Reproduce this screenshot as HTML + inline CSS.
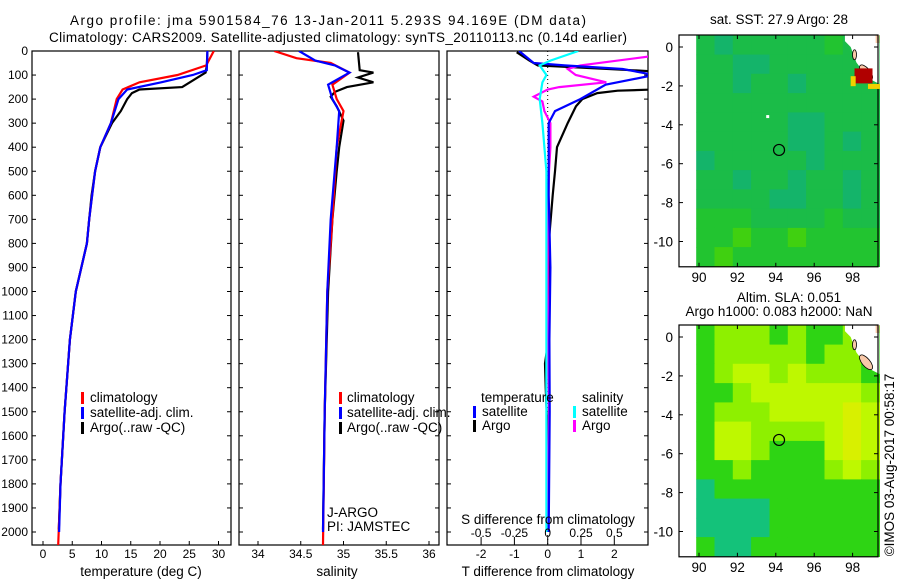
<!DOCTYPE html>
<html><head><meta charset="utf-8"><style>
body{margin:0;background:#fff;}
svg{display:block;font-family:"Liberation Sans",sans-serif;font-size:12px;}
.w{font-size:13.5px;}
</style></head><body>
<svg id="chart" width="900" height="580" viewBox="0 0 900 580">
<defs>
<clipPath id="c1"><rect x="32" y="51" width="199" height="494"/></clipPath>
<clipPath id="c2"><rect x="239" y="51" width="200" height="494"/></clipPath>
<clipPath id="c3"><rect x="447" y="51" width="201" height="494"/></clipPath>
</defs>
<text class="w" x="328" y="25" text-anchor="middle" textLength="516">Argo profile: jma 5901584_76 13-Jan-2011 5.293S 94.169E (DM data)</text>
<text class="w" x="338" y="42" text-anchor="middle" textLength="578">Climatology: CARS2009. Satellite-adjusted climatology: synTS_20110113.nc (0.14d earlier)</text>
<g id="g"></g>
<text class="w" x="779" y="24" text-anchor="middle">sat. SST: 27.9 Argo: 28</text>
<text class="w" x="789" y="302" text-anchor="middle">Altim. SLA: 0.051</text>
<text class="w" x="779" y="316" text-anchor="middle">Argo h1000: 0.083 h2000: NaN</text>
<text class="w" transform="translate(894,465) rotate(-90)" text-anchor="middle">©IMOS 03-Aug-2017 00:58:17</text>
</svg>
<script>
// ---- data ----
const tempArgoDepth=[5,60,90,150,160,175,200,250,300,400,500,600,700,800,1000,1200,1500,1800,1990];
const tempArgo=[28.1,28.0,27.8,23.8,16.5,15.2,14.4,13.3,11.8,9.8,8.9,8.3,7.9,7.5,5.6,4.6,3.7,3.0,2.7];
const tempClimDepth=[0,60,100,130,160,200,300,400,500,700,800,1000,1200,1500,1800,2054];
const tempClim=[29.2,27.9,23.0,16.5,13.6,12.6,11.6,9.8,8.9,7.9,7.5,5.6,4.6,3.7,3.0,2.6];
const tempSatDepth=[0,80,100,130,160,200,300,400,500,700,800,1000,1200,1500,1800,2000];
const tempSat=[28.1,28.0,25.6,20.2,14.4,12.9,11.6,9.8,8.9,7.9,7.5,5.6,4.6,3.7,3.0,2.75];
const salArgoDepth=[5,80,90,110,130,150,170,190,230,290,400,500,700,1000,1500,1990];
const salArgo=[35.17,35.19,35.35,35.17,35.35,35.04,34.9,34.85,34.92,35.0,34.95,34.92,34.87,34.82,34.78,34.76];
const salClimDepth=[0,30,50,90,140,200,250,400,700,1000,1500,2054];
const salClim=[34.19,34.45,34.85,35.07,34.87,34.92,35.0,34.92,34.87,34.81,34.78,34.76];
const salSatDepth=[0,40,60,90,140,200,250,400,700,1000,1500,2000];
const salSat=[34.48,34.67,34.9,35.07,34.82,34.87,34.95,34.92,34.85,34.81,34.78,34.76];
const dTArgoDepth=[5,40,60,85,160,165,175,200,230,300,400,500,600,700,800,1000,1200,1300,1400,1600,1990];
const dTArgo=[-0.93,-0.55,-0.3,3.2,3.2,2.1,1.49,1.04,0.85,0.6,0.28,0.22,0.15,0.09,0.03,0.05,0.02,-0.08,-0.06,0.0,0.0];
const dTSatDepth=[0,50,60,75,100,140,200,250,300,600,900,1200,1500,2000];
const dTSat=[-0.86,-0.42,0.5,2.25,3.2,1.74,0.98,0.22,0.03,0.03,0.08,0.05,0.06,0.03];
const dSArgoDepth=[5,20,60,75,100,130,150,160,190,210,250,300,400,500,700,1000,1500,1990];
const dSArgo=[0.8,0.8,0.245,0.15,0.21,0.44,0.086,0,-0.105,-0.04,-0.025,0.02,0.02,0.01,0.0,0.0,0.01,0.0];
const dSSatDepth=[0,40,60,100,130,200,300,500,800,1200,1600,2000];
const dSSat=[0.23,0.02,-0.06,-0.01,-0.04,-0.06,-0.04,-0.01,-0.01,-0.01,-0.01,-0.01];
const depthTicks=[0,100,200,300,400,500,600,700,800,900,1000,1100,1200,1300,1400,1500,1600,1700,1800,1900,2000];
const tempTicks=[0,5,10,15,20,25,30];
const salTicks=[34,34.5,35,35.5,36];
const dTTicks=[-2,-1,0,1,2];
const dSTicks=[-0.5,-0.25,0,0.25,0.5];
const lonTicks=[90,92,94,96,98];
const latTicks=[0,-2,-4,-6,-8,-10];
// map grids: rows lat 0.5..-10.5, cols lon 90..99
const sstGrid=[
[1,0,1,1,1,1,1,2,1,1],[1,1,0,0,1,1,1,1,1,1],[1,1,0,1,1,0,1,1,1,1],[1,1,1,1,1,1,1,1,1,1],
[1,1,1,1,1,0,0,1,1,1],[1,1,1,1,1,0,0,1,0,1],[0,1,1,1,1,1,0,1,1,1],[1,1,0,1,1,0,1,1,0,1],
[1,1,1,1,0,0,1,1,0,1],[2,2,2,1,1,1,1,2,1,1],[2,2,3,2,2,3,2,2,2,2],[2,3,2,2,2,2,2,2,2,2]];
const slaGrid=[
[1,2,2,2,1,2,1,1,2,1],[1,2,2,2,2,2,1,2,2,1],[1,2,3,3,2,3,2,2,2,1],[1,1,2,3,3,3,3,3,3,2],
[1,2,2,2,3,3,3,3,4,3],[1,3,3,2,2,2,2,3,4,3],[1,3,3,2,1,1,1,3,4,3],[1,1,2,1,1,1,1,2,3,2],
[0,1,1,1,1,1,1,1,1,1],[0,0,0,0,1,1,1,1,1,1],[0,0,0,0,1,1,1,1,1,1],[1,0,0,1,1,1,1,1,1,1]];
const sstColors=["#14b46a","#1bbc48","#22c430","#40d010"];
const slaColors=["#14c27a","#2ed414","#8ef000","#bef800","#d8f000"];
const floatLon=94.169, floatLat=-5.293;

// ---- scales ----
const NS="http://www.w3.org/2000/svg";
const G=document.getElementById('g');
function el(tag,attrs,parent){const e=document.createElementNS(NS,tag);for(const k in attrs)e.setAttribute(k,attrs[k]);(parent||G).appendChild(e);return e;}
const yD=d=>51+d*0.2405;
const xT=t=>43+t*5.85;
const xS=s=>258+(s-34)*85.5;
const xDT=t=>547.7+t*33.3;
const xDS=s=>547.7+s*133.2;

function frame(x,w,name){
  const r=el('rect',{x:x,y:51,width:w,height:494,fill:'none',stroke:'#000','stroke-width':1.2});
  
  
  depthTicks.forEach(d=>{
    el('line',{x1:x,x2:x+4,y1:yD(d),y2:yD(d),stroke:'#000'});
    el('line',{x1:x+w-4,x2:x+w,y1:yD(d),y2:yD(d),stroke:'#000'});
  });
}
function line(ds,vs,sx,color,clip,name,w){
  const pts=ds.map((d,i)=>sx(vs[i]).toFixed(1)+','+yD(d).toFixed(1)).join(' ');
  const p=el('polyline',{points:pts,fill:'none',stroke:color,'stroke-width':w||2.2,'clip-path':'url(#'+clip+')'});
  
  
}
function xticks(ticks,sx,y,labelY,name){
  ticks.forEach(t=>{
    el('line',{x1:sx(t),x2:sx(t),y1:y-4,y2:y,stroke:'#000'});
    const tx=el('text',{x:sx(t),y:labelY,'text-anchor':'middle'});tx.textContent=String(t);
    
    
  });
}
function text(x,y,s,name,anchor){const t=el('text',{x:x,y:y,'text-anchor':anchor||'start','class':'w'});t.textContent=s;
  
  
  return t;}
function legendBar(x,y,color,name){const r=el('rect',{x:x,y:y-10,width:3,height:12,fill:color});
  
  }

// panel 1
frame(32,199,'temperature-panel');
depthTicks.forEach(d=>{const t=el('text',{x:28,y:yD(d)+4,'text-anchor':'end'});t.textContent=String(d);
  
  });
line(tempArgoDepth,tempArgo,xT,'#000','c1','temp-argo-line');
line(tempClimDepth,tempClim,xT,'#f00','c1','temp-climatology-line');
line(tempSatDepth,tempSat,xT,'#00f','c1','temp-satellite-line');
xticks(tempTicks,xT,545,558,'temp-tick-label');
text(141,576,'temperature (deg C)','temp-axis-title','middle');
legendBar(81,402,'#f00','legend-climatology-marker');text(90,402,'climatology','legend-climatology');
legendBar(81,417,'#00f','legend-satellite-marker');text(90,417,'satellite-adj. clim.','legend-satellite');
legendBar(81,432,'#000','legend-argo-marker');text(90,432,'Argo(..raw -QC)','legend-argo');

// panel 2
frame(239,200,'salinity-panel');
line(salArgoDepth,salArgo,xS,'#000','c2','sal-argo-line');
line(salClimDepth,salClim,xS,'#f00','c2','sal-climatology-line');
line(salSatDepth,salSat,xS,'#00f','c2','sal-satellite-line');
xticks(salTicks,xS,545,558,'sal-tick-label');
text(337,576,'salinity','sal-axis-title','middle');
legendBar(339,402,'#f00','legend2-climatology-marker');text(347,402,'climatology','legend2-climatology');
legendBar(339,417,'#00f','legend2-satellite-marker');text(347,417,'satellite-adj. clim.','legend2-satellite');
legendBar(339,432,'#000','legend2-argo-marker');text(347,432,'Argo(..raw -QC)','legend2-argo');
text(327,517,'J-ARGO','float-program');
text(327,531,'PI: JAMSTEC','float-pi');

// panel 3
frame(447,201,'difference-panel');
el('line',{x1:xDT(0),x2:xDT(0),y1:51,y2:545,stroke:'#000','stroke-dasharray':'1,3'});
line(dTArgoDepth,dTArgo,xDT,'#000','c3','tdiff-argo-line');
line(dSArgoDepth,dSArgo,xDS,'#f0f','c3','sdiff-argo-line');
line(dTSatDepth,dTSat,xDT,'#00f','c3','tdiff-satellite-line');
line(dSSatDepth,dSSat,xDS,'#0ff','c3','sdiff-satellite-line');
xticks(dTTicks,xDT,545,558,'tdiff-tick-label');
xticks(dSTicks,xDS,541,537,'sdiff-tick-label');
text(548,524,'S difference from climatology','sdiff-axis-title','middle');
text(548,576,'T difference from climatology','tdiff-axis-title','middle');
text(481,402,'temperature','legend3-temperature-header');
text(582,402,'salinity','legend3-salinity-header');
legendBar(473,416,'#00f','legend3-tsat-marker');text(482,416,'satellite','legend3-tsat');
legendBar(473,430,'#000','legend3-targo-marker');text(482,430,'Argo','legend3-targo');
legendBar(573,416,'#0ff','legend3-ssat-marker');text(582,416,'satellite','legend3-ssat');
legendBar(573,430,'#f0f','legend3-sargo-marker');text(582,430,'Argo','legend3-sargo');

// maps
function map(top,lat0y,grid,colors,name){
  const lx=lon=>699+(lon-90)*19.2;
  const ly=lat=>lat0y-lat*19.45;
  const bottom=ly(-11.3);
  const g=el('g',{});
  
  
  grid.forEach((row,r)=>row.forEach((v,c)=>{
    const lonA=89.85+c*0.955, latA=0.6-r*0.99;
    const cell=el('rect',{x:lx(lonA).toFixed(1),y:ly(latA).toFixed(1),width:(0.955*19.2+0.6).toFixed(1),height:(0.99*19.45+0.6).toFixed(1),fill:colors[v]},g);
    
    
  }));
  el('polygon',{points:`${lx(97.6)},${top} ${lx(99.4)},${top} ${lx(99.4)},${ly(-1.9)} ${lx(98.8)},${ly(-1.6)} ${lx(98.2)},${ly(-0.8)} ${lx(97.9)},${ly(0)} ${lx(97.6)},${ly(0.3)}`,fill:'#fff'},g);
  el('ellipse',{cx:lx(98.7),cy:ly(-1.3),rx:4,ry:9,fill:'#f8c8a8',stroke:'#000','stroke-width':0.8,transform:`rotate(-40 ${lx(98.7)} ${ly(-1.3)})`},g);
  el('ellipse',{cx:lx(98.1),cy:ly(-0.4),rx:2,ry:5,fill:'#f8c8a8',stroke:'#000','stroke-width':0.8},g);
  el('rect',{x:lx(99.2),y:top,width:lx(99.4)-lx(99.2),height:8,fill:'#f8c8a8'},g);
  el('rect',{x:679,y:top,width:lx(89.85)-679,height:bottom-top,fill:'#fff'},g);
  el('rect',{x:679,y:top,width:199,height:bottom-top,fill:'none',stroke:'#000','stroke-width':1.2},g);
  lonTicks.forEach(l=>{el('line',{x1:lx(l),x2:lx(l),y1:bottom-4,y2:bottom,stroke:'#000'},g);el('line',{x1:lx(l),x2:lx(l),y1:top,y2:top+4,stroke:'#000'},g);
    const t=el('text',{x:lx(l),y:bottom+15,'text-anchor':'middle','class':'w'},g);t.textContent=String(l);});
  latTicks.forEach(l=>{el('line',{x1:679,x2:683,y1:ly(l),y2:ly(l),stroke:'#000'},g);el('line',{x1:874,x2:878,y1:ly(l),y2:ly(l),stroke:'#000'},g);
    const t=el('text',{x:673,y:ly(l)+5,'text-anchor':'end','class':'w'},g);t.textContent=String(l);});
  const c=el('circle',{cx:lx(floatLon),cy:ly(floatLat),r:5.5,fill:'none',stroke:'#000','stroke-width':1.2},g);
  
  
  return {lx,ly,g};
}
const m1=map(35,47,sstGrid,sstColors,'sst-map');
el('rect',{x:m1.lx(98.1),y:m1.ly(-1.1),width:18,height:15,fill:'#b00000'},m1.g);
el('rect',{x:m1.lx(97.9),y:m1.ly(-1.5),width:5,height:10,fill:'#f0d000'},m1.g);
el('rect',{x:m1.lx(98.8),y:m1.ly(-1.9),width:12,height:5,fill:'#f0d000'},m1.g);
el('rect',{x:m1.lx(93.5),y:m1.ly(-3.5),width:3,height:3,fill:'#fff'},m1.g);
map(325,337,slaGrid,slaColors,'sla-map');
</script>
</body></html>
